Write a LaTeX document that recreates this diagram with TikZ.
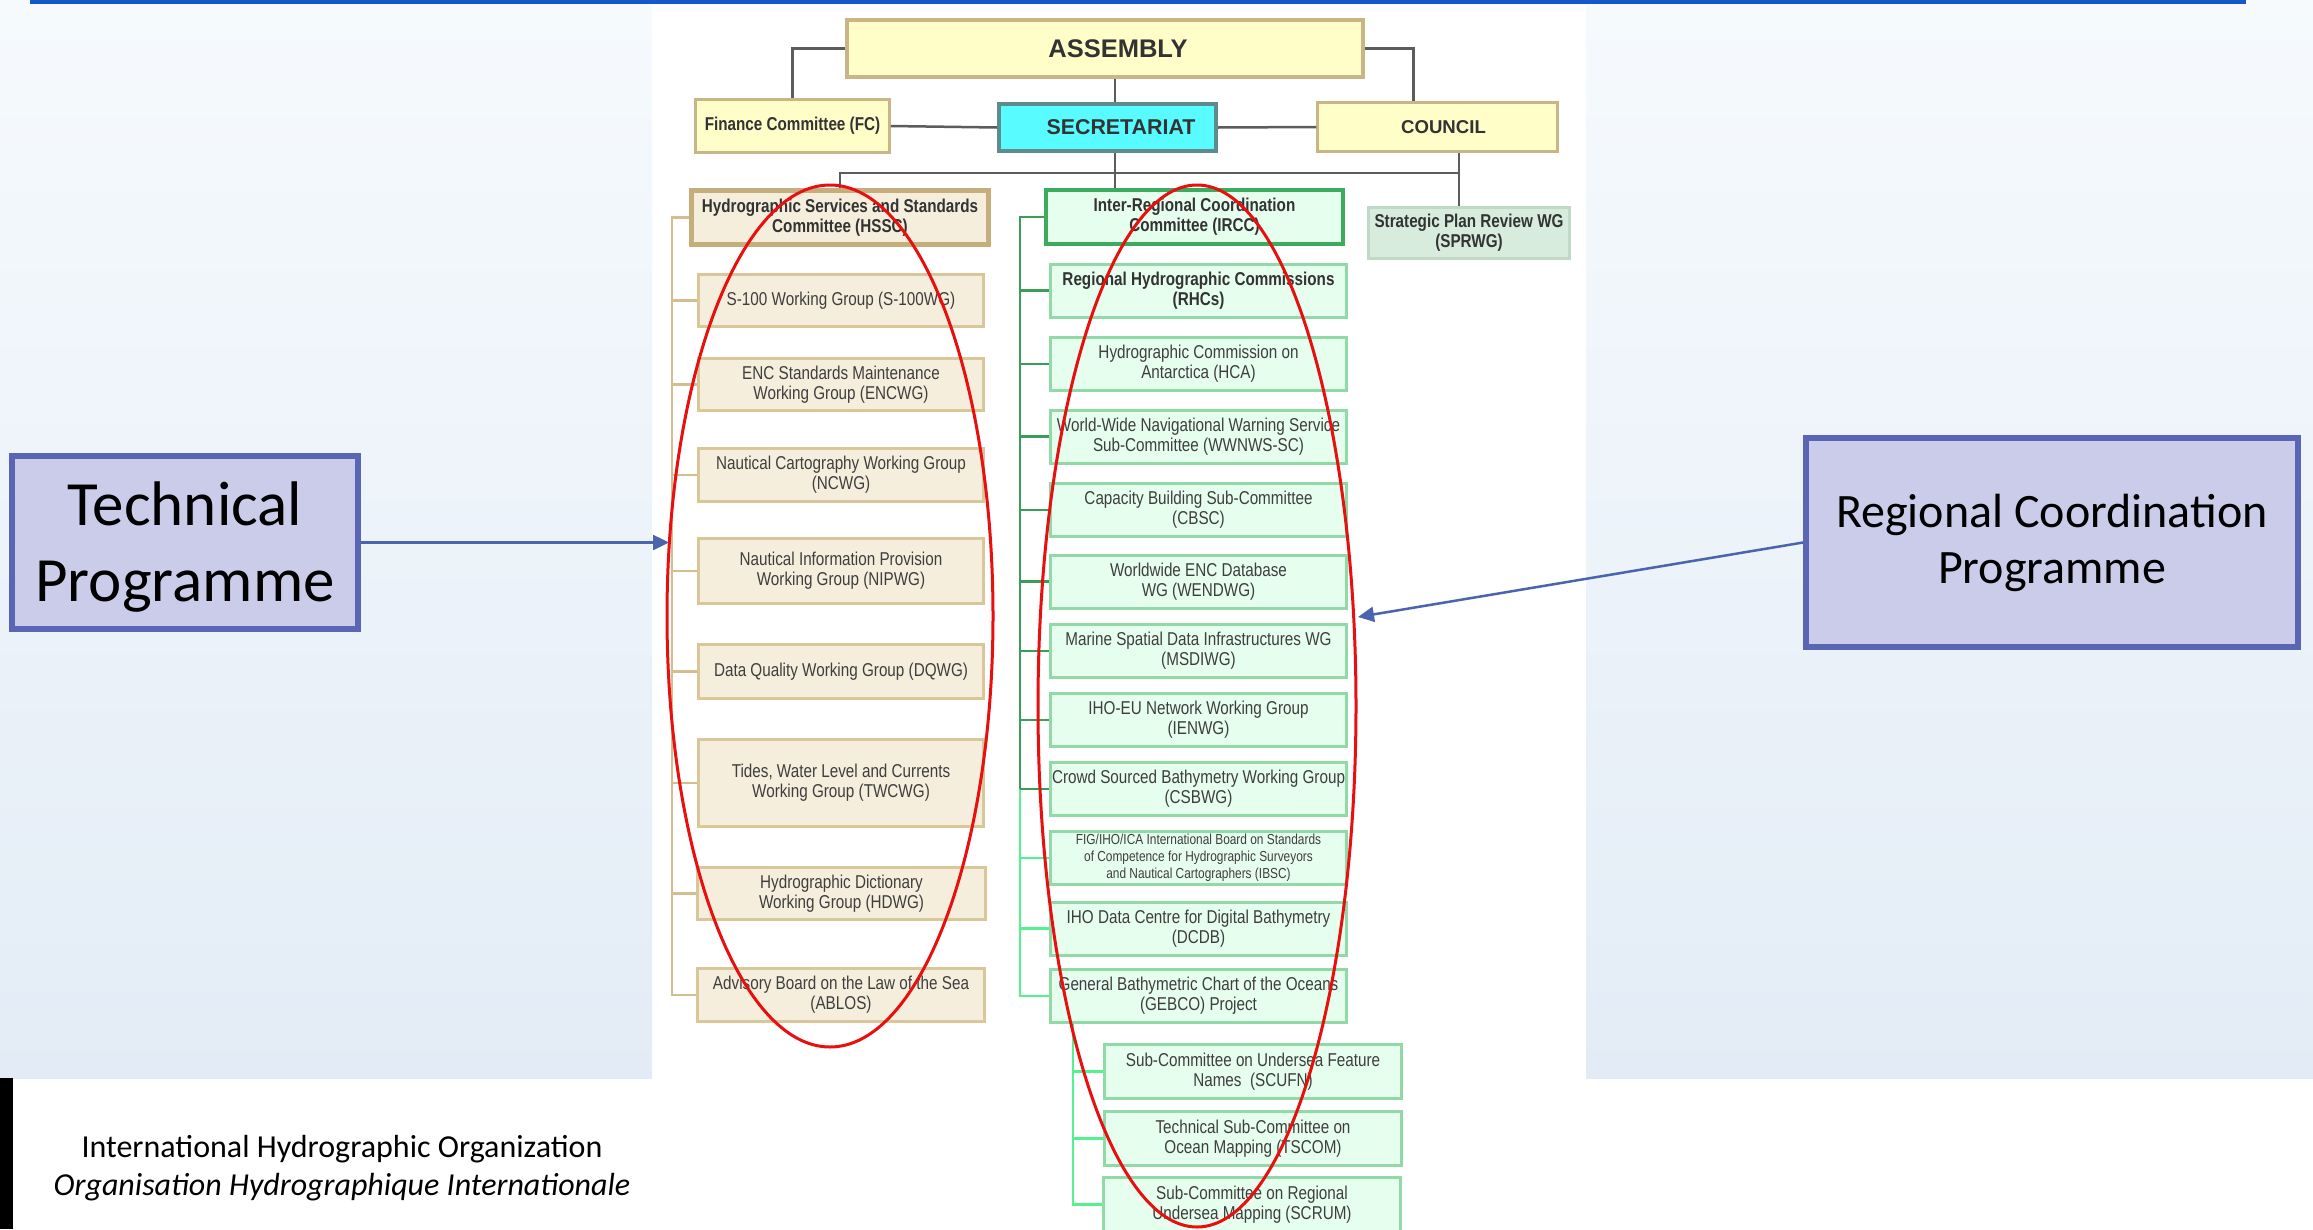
\documentclass[tikz,border=0pt]{standalone}
\usepackage{fontspec}
\setmainfont{Carlito}
\newfontfamily\orgN[FakeStretch=0.82]{Liberation Sans}
\newfontfamily\orgW{Liberation Sans}
\usetikzlibrary{arrows.meta}
\definecolor{bgtop}{HTML}{F6FAFD}
\definecolor{bgbot}{HTML}{E3ECF6}
\definecolor{topblue}{HTML}{1558CC}
\definecolor{yel}{HTML}{FFFDC8}
\definecolor{yelB}{HTML}{C9B586}
\definecolor{cyanF}{HTML}{58FBFF}
\definecolor{cyanB}{HTML}{5E8B8B}
\definecolor{beige}{HTML}{F6EEDD}
\definecolor{tanB}{HTML}{C5AE7C}
\definecolor{tanC}{HTML}{D9C79A}
\definecolor{tanL}{HTML}{D4BD8E}
\definecolor{mint}{HTML}{E6FEEE}
\definecolor{grnB}{HTML}{3DAB5E}
\definecolor{grnC}{HTML}{92D9A8}
\definecolor{grnD}{HTML}{3A9E58}
\definecolor{grnL}{HTML}{52F28F}
\definecolor{sprF}{HTML}{D7ECDD}
\definecolor{sprB}{HTML}{BFD9C6}
\definecolor{grayL}{HTML}{5C5C5C}
\definecolor{txt}{HTML}{3E3E3E}
\definecolor{txtB}{HTML}{333333}
\definecolor{progF}{HTML}{CBCCE9}
\definecolor{progB}{HTML}{5A66B4}
\definecolor{arrB}{HTML}{4A64AE}
\definecolor{ellR}{HTML}{E80F0F}
\begin{document}
\begin{tikzpicture}[x=1pt,y=-1pt,
  basebox/.style={align=center, inner sep=1pt, text=txt},
  capsfont/.style={font=\orgW\bfseries\fontsize{18.6}{20}\selectfont, text=txtB},
  nbold/.style={font=\orgN\bfseries\fontsize{18.6}{20}\selectfont, text=txtB},
  nreg/.style={font=\orgN\fontsize{18.6}{20}\selectfont},
  ybox/.style={basebox, draw=yelB, line width=2.5pt, fill=yel},
  secbox/.style={basebox, draw=cyanB, line width=4pt, fill=cyanF},
  hsscbox/.style={basebox, draw=tanB, line width=5pt, fill=beige, minimum width=297, minimum height=54},
  lchild/.style={basebox, nreg, draw=tanC, line width=3pt, fill=beige, minimum width=285},
  irccbox/.style={basebox, draw=grnB, line width=4pt, fill=mint, minimum width=297, minimum height=54},
  mchild/.style={basebox, nreg, draw=grnC, line width=3pt, fill=mint, minimum width=296, minimum height=53},
  sprbox/.style={basebox, nbold, draw=sprB, line width=2.5pt, fill=sprF, minimum width=201, minimum height=51},
  progbox/.style={align=center, draw=progB, line width=6pt, fill=progF, text=black},
  grayln/.style={draw=grayL, line width=2.5pt},
  tanln/.style={draw=tanL, line width=2.5pt},
  gdark/.style={draw=grnD, line width=2.5pt},
  gbright/.style={draw=grnL, line width=2.5pt},
  barrow/.style={draw=arrB, line width=2.5pt, -{Triangle[length=16pt,width=15pt]}},
  redell/.style={draw=ellR, line width=3pt}
]
\useasboundingbox (0,0) rectangle (2313,1229);
\clip (0,0) rectangle (2313,1229);
% background
\fill[white] (0,0) rectangle (2313,1229);
\shade[top color=bgtop, bottom color=bgbot] (0,0) rectangle (652,1078);
\shade[top color=bgtop, bottom color=bgbot] (1586,0) rectangle (2313,1078);
\fill[bgtop] (652,0) rectangle (1586,5);
\fill[topblue] (30,0) rectangle (2246,4);
\fill[black] (0,1078) rectangle (13,1229);

% top level
\node[ybox, line width=4pt, minimum width=516, minimum height=57,
      font=\orgW\bfseries\fontsize{25.5}{27}\selectfont, text=txtB] (assembly) at (1105,48.5) {\hspace*{26pt}ASSEMBLY};
\node[ybox, nbold, minimum width=194, minimum height=53] (fc) at (792.5,126) {Finance Committee (FC)};
\node[secbox, capsfont, font=\orgW\bfseries\fontsize{21.4}{23}\selectfont, minimum width=217, minimum height=47] (sec) at (1107.5,127.5) {\hspace*{27pt}SECRETARIAT};
\node[ybox, capsfont, minimum width=240, minimum height=49] (council) at (1437.5,127) {\hspace*{12pt}COUNCIL};

\node[hsscbox, nbold] (hssc) at (840,217.5) {Hydrographic Services and Standards\\Committee (HSSC)};
\node[irccbox, nbold] (ircc) at (1194.5,217) {Inter-Regional Coordination\\Committee (IRCC)};
\node[sprbox] (sprwg) at (1469,233) {Strategic Plan Review WG\\(SPRWG)};

% top connectors
\coordinate (busR) at (1459,173);
\coordinate (secX) at (1115,0);
\draw[grayln] (assembly.west) -| (fc.north);
\draw[grayln] (assembly.east) -| ([xshift=-24pt]council.north);
\draw[grayln] (assembly.south -| secX) -- (sec.north -| secX);
\draw[grayln] (fc.east) -- (sec.west);
\draw[grayln] (sec.east) -- (council.west);
\draw[grayln] (sec.south -| secX) -- (ircc.north -| secX);
\draw[grayln] (hssc.north) |- (busR);
\draw[grayln] (council.south -| busR) -- (sprwg.north -| busR);

% left column
\node[lchild, minimum height=52] (s100) at (841,300.5) {S-100 Working Group (S-100WG)};
\node[lchild, minimum height=52] (encwg) at (841,384.5) {ENC Standards Maintenance\\Working Group (ENCWG)};
\node[lchild, minimum height=53] (ncwg) at (841,475) {Nautical Cartography Working Group\\(NCWG)};
\node[lchild, minimum height=65] (nipwg) at (841,571) {Nautical Information Provision\\Working Group (NIPWG)};
\node[lchild, minimum height=54] (dqwg) at (841,671.5) {Data Quality Working Group (DQWG)};
\node[lchild, minimum height=87] (twcwg) at (841,783) {Tides, Water Level and Currents\\Working Group (TWCWG)};
\node[lchild, minimum height=52, minimum width=288] (hdwg) at (841.5,893.5) {Hydrographic Dictionary\\Working Group (HDWG)};
\node[lchild, minimum height=53, minimum width=287] (ablos) at (841,995) {Advisory Board on the Law of the Sea\\(ABLOS)};

\coordinate (lsp) at (672,218);
\draw[tanln] (hssc.west) -- (hssc.west -| lsp) -- (ablos.west -| lsp) -- (ablos.west);
\foreach \n in {s100,encwg,ncwg,nipwg,dqwg,twcwg,hdwg}
  \draw[tanln] (\n.west -| lsp) -- (\n.west);

% middle column
\node[mchild, nbold] (rhcs) at (1198.5,290.5) {Regional Hydrographic Commissions\\(RHCs)};
\node[mchild] (hca) at (1198.5,364) {Hydrographic Commission on\\Antarctica (HCA)};
\node[mchild] (wwnws) at (1198.5,436.5) {World-Wide Navigational Warning Service\\Sub-Committee (WWNWS-SC)};
\node[mchild] (cbsc) at (1198.5,510) {Capacity Building Sub-Committee\\(CBSC)};
\node[mchild] (wendwg) at (1198.5,581.5) {Worldwide ENC Database\\WG (WENDWG)};
\node[mchild] (msdiwg) at (1198.5,651) {Marine Spatial Data Infrastructures WG\\(MSDIWG)};
\node[mchild] (ienwg) at (1198.5,720) {IHO-EU Network Working Group\\(IENWG)};
\node[mchild] (csbwg) at (1198.5,789) {Crowd Sourced Bathymetry Working Group\\(CSBWG)};
\node[mchild, font=\orgN\fontsize{14.5}{17}\selectfont] (ibsc) at (1198.5,858) {FIG/IHO/ICA International Board on Standards\\of Competence for Hydrographic Surveyors\\and Nautical Cartographers (IBSC)};
\node[mchild] (dcdb) at (1198.5,928.5) {IHO Data Centre for Digital Bathymetry\\(DCDB)};
\node[mchild] (gebco) at (1198.5,996) {General Bathymetric Chart of the Oceans\\(GEBCO) Project};

\coordinate (msp) at (1020,218);
\draw[gdark] (ircc.west) -- (ircc.west -| msp) -- (csbwg.west -| msp);
\draw[gbright] (csbwg.west -| msp) -- (gebco.west -| msp) -- (gebco.west);
\foreach \n in {rhcs,hca,wwnws,cbsc,wendwg,msdiwg,ienwg,csbwg}
  \draw[gdark] (\n.west -| msp) -- (\n.west);
\foreach \n in {ibsc,dcdb}
  \draw[gbright] (\n.west -| msp) -- (\n.west);

% GEBCO sub-committees
\node[mchild, minimum width=297, minimum height=54] (scufn) at (1253,1071.5) {Sub-Committee on Undersea Feature\\Names\ \ (SCUFN)};
\node[mchild, minimum width=297, minimum height=54] (tscom) at (1253,1138.5) {Technical Sub-Committee on\\Ocean Mapping (TSCOM)};
\node[mchild, minimum width=297, minimum height=54] (scrum) at (1252,1204.5) {Sub-Committee on Regional\\Undersea Mapping (SCRUM)};
\coordinate (ssp) at (1073,1030);
\draw[gbright] (gebco.south -| ssp) -- (scrum.west -| ssp) -- (scrum.west);
\foreach \n in {scufn,tscom}
  \draw[gbright] (\n.west -| ssp) -- (\n.west);

% red ellipses
\draw[redell] (830,616) ellipse [x radius=163, y radius=431];
\draw[redell] (1197,706) ellipse [x radius=159, y radius=521];

% programme boxes
\node[progbox, minimum width=346, minimum height=173, font=\fontsize{63}{76}\selectfont] (tp) at (185,542.5) {\rule{0pt}{52pt}Technical\\Programme};
\node[progbox, minimum width=492, minimum height=209, font=\fontsize{48}{56}\selectfont] (rcp) at (2052,542.5) {Regional Coordination\\Programme};
\coordinate (tpend) at (669,542.5);
\coordinate (rcend) at (1358,617);
\draw[barrow] (tp.east) -- (tpend);
\draw[barrow] (rcp.west) -- (rcend);

% footer
\node[align=center, font=\fontsize{32}{38}\selectfont, text=black] (iho) at (342,1168)
  {International Hydrographic Organization\\\textit{Organisation Hydrographique Internationale}};
\end{tikzpicture}
\end{document}
